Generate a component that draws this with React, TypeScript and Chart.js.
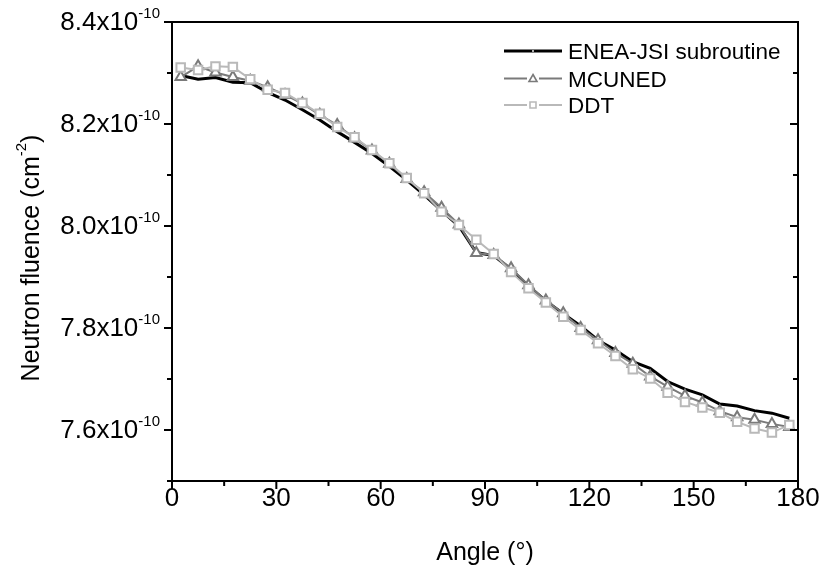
import React, { useEffect, useRef } from 'react';
import { Chart, registerables } from 'chart.js';

Chart.register(...registerables);

// Neutron fluence values, in units of 1e-10 cm^-2
const angles = [
  2.5, 7.5, 12.5, 17.5, 22.5, 27.5, 32.5, 37.5, 42.5, 47.5, 52.5, 57.5,
  62.5, 67.5, 72.5, 77.5, 82.5, 87.5, 92.5, 97.5, 102.5, 107.5, 112.5, 117.5,
  122.5, 127.5, 132.5, 137.5, 142.5, 147.5, 152.5, 157.5, 162.5, 167.5, 172.5, 177.5,
];
const eneaJsi = [
  8.295, 8.288, 8.291, 8.282, 8.281, 8.262, 8.247, 8.228, 8.208, 8.185, 8.164, 8.142,
  8.117, 8.090, 8.061, 8.030, 8.000, 7.948, 7.942, 7.915, 7.882, 7.853, 7.828, 7.804,
  7.776, 7.757, 7.734, 7.721, 7.695, 7.680, 7.669, 7.651, 7.647, 7.638, 7.633, 7.623,
];
const mcuned = [
  8.292, 8.313, 8.301, 8.292, 8.285, 8.272, 8.257, 8.240, 8.218, 8.198, 8.172, 8.148,
  8.122, 8.092, 8.066, 8.036, 8.003, 7.947, 7.943, 7.917, 7.884, 7.854, 7.829, 7.800,
  7.776, 7.751, 7.730, 7.705, 7.685, 7.667, 7.654, 7.637, 7.625, 7.620, 7.612, 7.606,
];
const ddt = [
  8.311, 8.306, 8.313, 8.312, 8.288, 8.267, 8.261, 8.241, 8.220, 8.194, 8.174, 8.149,
  8.123, 8.094, 8.064, 8.028, 8.002, 7.973, 7.945, 7.910, 7.878, 7.850, 7.822, 7.796,
  7.770, 7.745, 7.719, 7.701, 7.673, 7.655, 7.644, 7.634, 7.616, 7.603, 7.595, 7.610,
];

const seriesNames = ['ENEA-JSI subroutine', 'MCUNED', 'DDT'];
const xMajorTicks = [0, 30, 60, 90, 120, 150, 180];
const xMinorTicks = [15, 45, 75, 105, 135, 165];
const yMajorTicks = [7.6, 7.8, 8.0, 8.2, 8.4];
const yMajorLabels = ['7.6x10', '7.8x10', '8.0x10', '8.2x10', '8.4x10'];
const yMinorTicks = [7.5, 7.7, 7.9, 8.1, 8.3];
const yExponent = '-10';
const xTitle = 'Angle (°)';
const yTitleMain = 'Neutron fluence (cm';
const yTitleSup = '-2';
const yTitleEnd = ')';

const FONT = "'Liberation Sans', Arial, Helvetica, sans-serif";
const BLACK = '#000000';
const GRAY = '#7a7a7a';
const LIGHT = '#b9b9b9';

const TICK_FONT = 26;
const SUP_FONT = 15;
const TITLE_FONT = 25;
const LEGEND_FONT = 22.5;

const decorPlugin = {
  id: 'decor',
  afterDraw(chart: any) {
    const ctx: CanvasRenderingContext2D = chart.ctx;
    const xs = chart.scales.x;
    const ys = chart.scales.y;
    const a = chart.chartArea;
    ctx.save();
    ctx.strokeStyle = '#000';
    ctx.fillStyle = '#000';
    ctx.lineWidth = 2;
    ctx.lineCap = 'butt';
    // frame
    ctx.strokeRect(a.left, a.top, a.right - a.left, a.bottom - a.top);

    const major = 8;
    const minor = 5;
    ctx.beginPath();
    xMajorTicks.forEach((v) => {
      const px = xs.getPixelForValue(v);
      ctx.moveTo(px, a.bottom);
      ctx.lineTo(px, a.bottom + major);
    });
    xMinorTicks.forEach((v) => {
      const px = xs.getPixelForValue(v);
      ctx.moveTo(px, a.bottom);
      ctx.lineTo(px, a.bottom + minor);
    });
    yMajorTicks.forEach((v) => {
      const py = ys.getPixelForValue(v);
      ctx.moveTo(a.left, py);
      ctx.lineTo(a.left - major, py);
      ctx.moveTo(a.right, py);
      ctx.lineTo(a.right - major, py);
    });
    yMinorTicks.forEach((v) => {
      const py = ys.getPixelForValue(v);
      ctx.moveTo(a.left, py);
      ctx.lineTo(a.left - minor, py);
      ctx.moveTo(a.right, py);
      ctx.lineTo(a.right - minor, py);
    });
    ctx.stroke();

    // x tick labels
    ctx.font = `${TICK_FONT}px ${FONT}`;
    ctx.textAlign = 'center';
    ctx.textBaseline = 'alphabetic';
    xMajorTicks.forEach((v) => {
      ctx.fillText(String(v), xs.getPixelForValue(v), a.bottom + 25);
    });

    // y tick labels with superscript exponent
    yMajorTicks.forEach((v, i) => {
      const py = ys.getPixelForValue(v);
      const right = a.left - 12;
      ctx.font = `${SUP_FONT}px ${FONT}`;
      const supW = ctx.measureText(yExponent).width;
      ctx.textAlign = 'left';
      ctx.fillText(yExponent, right - supW, py - 4);
      ctx.font = `${TICK_FONT}px ${FONT}`;
      ctx.textAlign = 'right';
      ctx.fillText(yMajorLabels[i], right - supW, py + 8);
    });

    // x title
    ctx.font = `${TITLE_FONT}px ${FONT}`;
    ctx.textAlign = 'center';
    ctx.fillText(xTitle, (a.left + a.right) / 2, 560);

    // y title rotated
    ctx.save();
    ctx.translate(30, 258);
    ctx.rotate(-Math.PI / 2);
    ctx.font = `${TITLE_FONT}px ${FONT}`;
    const w1 = ctx.measureText(yTitleMain).width;
    const w3 = ctx.measureText(yTitleEnd).width;
    ctx.font = `${SUP_FONT}px ${FONT}`;
    const w2 = ctx.measureText(yTitleSup).width;
    const total = w1 + w2 + w3;
    let sx = -total / 2;
    ctx.textAlign = 'left';
    ctx.font = `${TITLE_FONT}px ${FONT}`;
    ctx.fillText(yTitleMain, sx, 9);
    sx += w1;
    ctx.font = `${SUP_FONT}px ${FONT}`;
    ctx.fillText(yTitleSup, sx, -4);
    sx += w2;
    ctx.font = `${TITLE_FONT}px ${FONT}`;
    ctx.fillText(yTitleEnd, sx, 9);
    ctx.restore();

    // legend
    const rows = [51, 78.5, 105];
    const lx0 = 504;
    const lx1 = 562;
    const lmid = (lx0 + lx1) / 2;
    chart.data.datasets.forEach((ds: any, i: number) => {
      const y = rows[i];
      ctx.strokeStyle = ds.borderColor;
      ctx.lineWidth = ds.borderWidth;
      ctx.beginPath();
      ctx.moveTo(lx0, y);
      ctx.lineTo(lx1, y);
      ctx.stroke();
      if (i === 0) {
        ctx.fillStyle = '#fff';
        ctx.beginPath();
        ctx.arc(lmid, y, 0.9, 0, Math.PI * 2);
        ctx.fill();
      } else {
        ctx.fillStyle = '#fff';
        ctx.fillRect(lmid - 6, y - 5, 12, 10);
        ctx.strokeStyle = ds.pointBorderColor;
        ctx.lineWidth = 1.6;
        ctx.beginPath();
        if (ds.pointStyle === 'triangle') {
          ctx.moveTo(lmid, y - 4);
          ctx.lineTo(lmid + 4, y + 3);
          ctx.lineTo(lmid - 4, y + 3);
          ctx.closePath();
        } else {
          ctx.rect(lmid - 3, y - 3, 6, 6);
        }
        ctx.stroke();
      }
      ctx.fillStyle = '#000';
      ctx.font = `${LEGEND_FONT}px ${FONT}`;
      ctx.textAlign = 'left';
      ctx.fillText(ds.label, 568, y + 8);
    });
    ctx.restore();
  },
};

export default function App() {
  const ref = useRef<HTMLCanvasElement | null>(null);
  useEffect(() => {
    if (!ref.current) return;
    const toXY = (vals: number[]) => vals.map((v, i) => ({ x: angles[i], y: v }));
    const chart = new Chart(ref.current, {
      type: 'line',
      data: {
        datasets: [
          {
            label: seriesNames[0],
            data: toXY(eneaJsi),
            borderColor: BLACK,
            borderWidth: 3,
            pointRadius: 0,
            tension: 0,
            order: 3,
          },
          {
            label: seriesNames[1],
            data: toXY(mcuned),
            borderColor: GRAY,
            borderWidth: 2,
            pointStyle: 'triangle',
            pointRadius: 6,
            pointBorderColor: GRAY,
            pointBackgroundColor: '#ffffff',
            pointBorderWidth: 2,
            tension: 0,
            order: 2,
          },
          {
            label: seriesNames[2],
            data: toXY(ddt),
            borderColor: LIGHT,
            borderWidth: 2,
            pointStyle: 'rect',
            pointRadius: 6,
            pointBorderColor: LIGHT,
            pointBackgroundColor: '#ffffff',
            pointBorderWidth: 2,
            tension: 0,
            order: 1,
          },
        ] as any,
      },
      options: {
        animation: false,
        responsive: false,
        devicePixelRatio: 1,
        layout: { padding: { left: 172, right: 24, top: 22, bottom: 88 } },
        scales: {
          x: { type: 'linear', min: 0, max: 180, display: false },
          y: { type: 'linear', min: 7.5, max: 8.4, display: false },
        },
        plugins: {
          legend: { display: false },
          tooltip: { enabled: false },
        },
        events: [],
      } as any,
      plugins: [decorPlugin],
    });
    return () => chart.destroy();
  }, []);
  return (
    <div style={{ position: 'fixed', left: 0, top: 0, width: 822, height: 569, background: '#fff' }}>
      <canvas ref={ref} width={822} height={569} style={{ display: 'block' }} />
    </div>
  );
}
